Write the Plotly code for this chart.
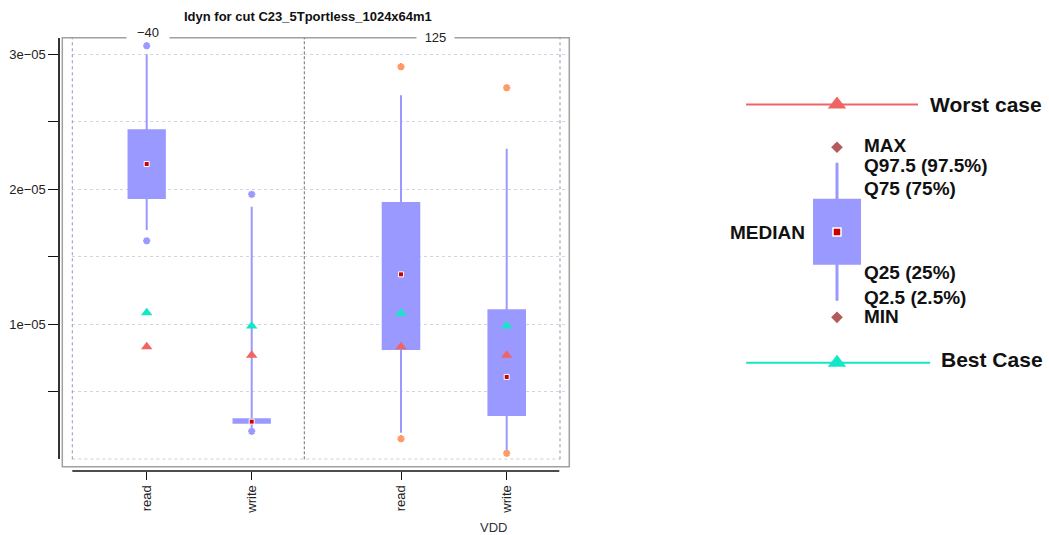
import plotly.graph_objects as go

# ---------------- data (Idyn, A) ----------------
vdd = ["read", "write"]
temps = ["\u221240", "125"]

m40_min = [1.619e-05, 0.207e-05]
m40_q2_5 = [1.699e-05, 0.232e-05]
m40_q25 = [1.936e-05, 0.271e-05]
m40_median = [2.187e-05, 0.279e-05]
m40_q75 = [2.437e-05, 0.296e-05]
m40_q97_5 = [3.000e-05, 1.871e-05]
m40_max = [3.064e-05, 1.963e-05]
m40_best = [1.086e-05, 0.987e-05]
m40_worst = [0.834e-05, 0.770e-05]

p125_min = [0.153e-05, 0.044e-05]
p125_q2_5 = [0.197e-05, 0.064e-05]
p125_q25 = [0.817e-05, 0.328e-05]
p125_median = [1.370e-05, 0.610e-05]
p125_q75 = [1.899e-05, 1.104e-05]
p125_q97_5 = [2.696e-05, 2.301e-05]
p125_max = [2.908e-05, 2.753e-05]
p125_best = [1.081e-05, 0.987e-05]
p125_worst = [0.834e-05, 0.770e-05]

y_tickvals = [5e-06, 1e-05, 1.5e-05, 2e-05, 2.5e-05, 3e-05]
y_ticktext = ["", "1e\u221205", "", "2e\u221205", "", "3e\u221205"]

# key schematic (abstract units, median = 0)
key_min, key_q2_5, key_q25, key_median, key_q75, key_q97_5, key_max = -2.71, -2.18, -0.99, 0.0, 1.01, 2.2, 2.69
key_worst = 4.05
key_best = -4.15

# ---------------- styling ----------------
W, H = 1049, 535
FONT = "Liberation Sans, Arial, Helvetica, sans-serif"
BOX = "#9999ff"
RED_TRI = "#f06464"
CYAN_TRI = "#14e6c8"
MED = "#cc0000"


def px(x):
    return x / W


def py(y):
    return 1 - y / H


fig = go.Figure()

panels = [
    ("x", m40_min, m40_q2_5, m40_q25, m40_median, m40_q75, m40_q97_5, m40_max, m40_best, m40_worst, BOX),
    ("x2", p125_min, p125_q2_5, p125_q25, p125_median, p125_q75, p125_q97_5, p125_max, p125_best, p125_worst, "#ff9966"),
]

for xa, mn, lo, q1, med, q3, hi, mx, best, worst, outc in panels:
    fig.add_trace(go.Box(
        x=vdd, q1=q1, median=med, q3=q3, lowerfence=lo, upperfence=hi,
        xaxis=xa, yaxis="y", width=0.346, whiskerwidth=0,
        fillcolor=BOX, line=dict(color=BOX, width=2),
        boxpoints=False, hoverinfo="skip", showlegend=False,
    ))
    fig.add_trace(go.Scatter(
        x=vdd + vdd, y=mn + mx, xaxis=xa, yaxis="y", mode="markers",
        marker=dict(symbol="asterisk", size=6, color=outc, line=dict(color=outc, width=2)),
        showlegend=False, hoverinfo="skip",
    ))
    fig.add_trace(go.Scatter(
        x=vdd, y=best, xaxis=xa, yaxis="y", mode="markers",
        marker=dict(symbol="triangle-up", size=10, color=CYAN_TRI),
        showlegend=False, hoverinfo="skip",
    ))
    fig.add_trace(go.Scatter(
        x=vdd, y=worst, xaxis=xa, yaxis="y", mode="markers",
        marker=dict(symbol="triangle-up", size=10, color=RED_TRI),
        showlegend=False, hoverinfo="skip",
    ))
    fig.add_trace(go.Scatter(
        x=vdd, y=med, xaxis=xa, yaxis="y", mode="markers",
        marker=dict(symbol="square", size=5, color=MED, line=dict(color="white", width=1)),
        showlegend=False, hoverinfo="skip",
    ))

# ---------------- key (schematic) ----------------
fig.add_trace(go.Box(
    x=[0], q1=[key_q25], median=[key_median], q3=[key_q75],
    lowerfence=[key_q2_5], upperfence=[key_q97_5],
    xaxis="x3", yaxis="y3", width=1, whiskerwidth=0,
    fillcolor=BOX, line=dict(color=BOX, width=3),
    boxpoints=False, hoverinfo="skip", showlegend=False,
))
fig.add_trace(go.Scatter(
    x=[0, 0], y=[key_max, key_min], xaxis="x3", yaxis="y3", mode="markers",
    marker=dict(symbol="diamond", size=9, color="#b35a5a"),
    showlegend=False, hoverinfo="skip",
))
fig.add_trace(go.Scatter(
    x=[0], y=[key_median], xaxis="x3", yaxis="y3", mode="markers",
    marker=dict(symbol="square", size=8, color=MED, line=dict(color="white", width=1.5)),
    showlegend=False, hoverinfo="skip",
))
fig.add_trace(go.Scatter(
    x=[-2.02, 1.8], y=[key_worst, key_worst], xaxis="x3", yaxis="y3", mode="lines",
    line=dict(color=RED_TRI, width=2), showlegend=False, hoverinfo="skip",
))
fig.add_trace(go.Scatter(
    x=[-2.02, 2.07], y=[key_best, key_best], xaxis="x3", yaxis="y3", mode="lines",
    line=dict(color=CYAN_TRI, width=2), showlegend=False, hoverinfo="skip",
))
fig.add_trace(go.Scatter(
    x=[0, 0], y=[key_worst, key_best], xaxis="x3", yaxis="y3", mode="markers",
    marker=dict(symbol="triangle-up", size=16, color=[RED_TRI, CYAN_TRI]),
    showlegend=False, hoverinfo="skip",
))

# ---------------- layout ----------------
y_top = 3e-05 + (54.3 - 38) / 135 * 1e-05
xtick_common = dict(
    type="category", showgrid=False, zeroline=False, showline=False,
    ticks="outside", ticklen=8, tickcolor="#111", tickwidth=1,
    tickangle=-90, tickfont=dict(family=FONT, size=13, color="#222"),
    anchor="free", position=py(471),
)

fig.update_layout(
    width=W, height=H,
    margin=dict(l=0, r=0, t=0, b=0),
    paper_bgcolor="white", plot_bgcolor="white",
    font=dict(family=FONT, color="#222"),
    boxmode="overlay",
    xaxis=dict(domain=[px(72.3), px(304.3)], range=[-0.7086, 1.501], **xtick_common),
    xaxis2=dict(domain=[px(304.3), px(569.3)], range=[-0.9149, 1.5922], **xtick_common),
    yaxis=dict(
        domain=[py(459.3), py(38)], range=[0, y_top],
        anchor="free", position=px(59.3),
        tickvals=y_tickvals, ticktext=y_ticktext,
        ticks="outside", ticklen=10, tickcolor="#111", tickwidth=1,
        tickfont=dict(family=FONT, size=13, color="#222"),
        showline=True, linecolor="#333", linewidth=2,
        showgrid=True, gridcolor="#cfd5e4", griddash="dot", gridwidth=1,
        zeroline=False,
    ),
    xaxis3=dict(domain=[px(700), 1.0], range=[-3.044, 4.711], visible=False),
    yaxis3=dict(domain=[py(389.5), py(74.5)], range=[-5, 5], visible=False, anchor="x3"),
)

shapes = [
    # outer frame
    dict(type="rect", xref="paper", yref="paper", x0=px(62.3), x1=px(569.3),
         y0=py(466.7), y1=py(37.7), line=dict(color="#a0a0a0", width=1.5), layer="below"),
    # x axis line
    dict(type="line", xref="paper", yref="paper", x0=px(72.3), x1=px(559.3),
         y0=py(471), y1=py(471), line=dict(color="#111", width=1.5)),
    # panel borders
    dict(type="line", xref="paper", yref="paper", x0=px(72.3), x1=px(72.3),
         y0=py(459.3), y1=py(38), line=dict(color="#8a96b8", width=1, dash="dot")),
    dict(type="line", xref="paper", yref="paper", x0=px(560), x1=px(560),
         y0=py(459.3), y1=py(38), line=dict(color="#8a96b8", width=1, dash="dot")),
    dict(type="line", xref="paper", yref="paper", x0=px(304.3), x1=px(304.3),
         y0=py(459.3), y1=py(38), line=dict(color="#707070", width=1, dash="3px,2px")),
    # bottom dotted line at 0
    dict(type="line", xref="paper", yref="y", x0=px(72.3), x1=px(560),
         y0=0, y1=0, line=dict(color="#888", width=1, dash="dot")),
]
fig.update_layout(shapes=shapes)

ann = [
    dict(text="<b>Idyn for cut C23_5Tportless_1024x64m1</b>", x=px(307.5), y=py(16),
         font=dict(size=13, color="#111")),
    dict(text=temps[0], x=px(147.5), y=py(33), font=dict(size=13, color="#222"),
         bgcolor="white", width=40),
    dict(text=temps[1], x=px(435), y=py(37.5), font=dict(size=13, color="#222"),
         bgcolor="white", width=35),
    dict(text="VDD", x=px(493.3), y=py(527.3), font=dict(size=13, color="#333")),
]
for a in ann:
    a.update(xref="paper", yref="paper", showarrow=False, xanchor="center", yanchor="middle")
    a["font"]["family"] = FONT

key_labels = [
    ("MAX", 0.556, 2.76, "left", 19),
    ("Q97.5 (97.5%)", 0.556, 2.105, "left", 19),
    ("Q75 (75%)", 0.556, 1.387, "left", 19),
    ("MEDIAN", -0.667, 0.0, "right", 19),
    ("Q25 (25%)", 0.556, -1.279, "left", 19),
    ("Q2.5 (2.5%)", 0.556, -2.086, "left", 19),
    ("MIN", 0.556, -2.698, "left", 19),
    ("Worst case", 2.016, 4.05, "left", 21),
    ("Best Case", 2.262, -4.06, "left", 21),
]
for txt, kx, ky, anc, sz in key_labels:
    ann.append(dict(text="<b>" + txt + "</b>", x=kx, y=ky, xref="x3", yref="y3",
                    showarrow=False, xanchor=anc, yanchor="middle",
                    font=dict(family=FONT, size=sz, color="#111")))

fig.update_layout(annotations=ann)

fig.write_html(
    "out.html",
    config={"displayModeBar": False},
    post_script="document.body.style.margin='0';document.body.style.overflow='hidden';",
)
